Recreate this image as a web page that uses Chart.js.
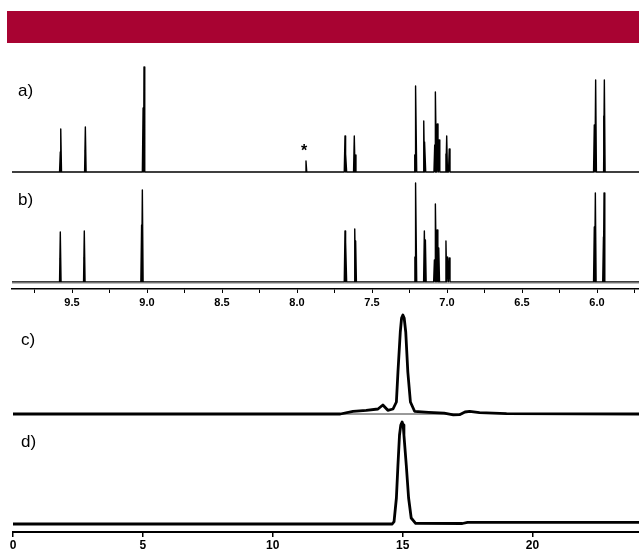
<!DOCTYPE html>
<html>
<head>
<meta charset="utf-8">
<script src="https://cdn.jsdelivr.net/npm/chart.js@4.4.1/dist/chart.umd.min.js"></script>
<style>
  html,body{margin:0;padding:0;background:#fff;}
  #wrap{position:relative;width:639px;height:552px;overflow:hidden;background:#fff;}
  canvas{position:absolute;left:0;}
  .lbl{position:absolute;font-family:"Liberation Sans",Arial,sans-serif;font-size:17px;line-height:17px;color:#000;}
</style>
</head>
<body>
<div id="wrap">
  <div style="position:absolute;left:7px;top:11px;width:632px;height:32px;background:#A80332"></div>
  <canvas id="cA" width="639" height="130" style="top:50px"></canvas>
  <canvas id="cB" width="639" height="140" style="top:175px"></canvas>
  <canvas id="cC" width="639" height="120" style="top:305px"></canvas>
  <canvas id="cD" width="639" height="137" style="top:415px"></canvas>
  <span class="lbl" style="left:18px;top:82px">a)</span>
  <span class="lbl" style="left:18px;top:191px">b)</span>
  <span class="lbl" style="left:21px;top:331px">c)</span>
  <span class="lbl" style="left:21px;top:433px">d)</span>
  <span class="lbl" style="left:301px;top:142px;font-size:16px;font-weight:bold">*</span>
</div>
<script>
// ---------- DATA ----------
const nmrRange = [5.72, 9.9];                 // ppm shown (reversed axis)
const nmrTicks = [9.75, 9.5, 9.25, 9.0, 8.75, 8.5, 8.25, 8.0, 7.75, 7.5, 7.25, 7.0, 6.75, 6.5, 6.25, 6.0, 5.75];

// spectrum a) lines: chemical shift (ppm) and intensity
const peaksA_ppm = [9.578, 9.575, 9.414, 9.411, 9.026, 9.020, 7.940, 7.680, 7.674, 7.618, 7.612, 7.215, 7.207, 7.155, 7.147, 7.082, 7.075, 7.065, 7.053, 7.007, 7.002, 6.985, 6.018, 6.009, 5.955, 5.951];
const peaksA_int = [20, 43, 22, 45, 64, 105, 11, 36, 18, 36, 17, 17, 86, 51, 30, 27, 80, 48, 32, 18, 36, 23, 47, 92, 56, 92];

// spectrum b) lines
const peaksB_ppm = [9.581, 9.578, 9.421, 9.418, 9.036, 9.031, 7.680, 7.674, 7.615, 7.609, 7.214, 7.207, 7.151, 7.144, 7.084, 7.075, 7.066, 7.055, 7.007, 6.996, 6.985, 6.018, 6.011, 5.957, 5.953];
const peaksB_int = [24, 50, 25, 51, 57, 92, 51, 40, 53, 41, 25, 99, 51, 42, 22, 78, 52, 34, 41, 25, 24, 55, 89, 45, 89];

const hplcRange = [0, 24.1];                  // retention time (min)
const hplcTicks = [0, 5, 10, 15, 20];

// chromatogram c)
const chromC_time   = [0, 12.6, 13.09, 13.6, 14.05, 14.24, 14.43, 14.63, 14.76, 14.82, 14.91, 14.96, 15.01, 15.06, 15.12, 15.2, 15.3, 15.46, 16.0, 16.6, 16.95, 17.19, 17.4, 17.58, 17.96, 19.0, 24.1];
const chromC_signal = [0, 0, 2.7, 3.7, 5, 9, 3.7, 5, 12, 42, 82, 96, 99, 96, 82, 42, 12, 2.7, 1.7, 0.8, -0.8, -0.7, 2.0, 2.7, 1.3, 0.3, 0];
const chromC_base_time = [12.6, 17.3];
const chromC_base_signal = [0, 0];

// chromatogram d)
const chromD_time   = [0, 14.6, 14.67, 14.76, 14.82, 14.88, 14.93, 14.98, 15.02, 15.05, 15.14, 15.23, 15.33, 15.5, 17.3, 17.5, 24.1];
const chromD_signal = [0, 0, 2.3, 26, 59, 89, 99, 102, 99, 89, 59, 26, 6, 0.7, 0.5, 1.6, 1.6];

// ---------- BUILD ----------
function spikes(ppm, inten, lo, hi, w) {
  const idx = ppm.map((p, i) => i).sort((a, b) => ppm[b] - ppm[a]);
  const pts = [{x: hi, y: 0}];
  idx.forEach(i => {
    pts.push({x: ppm[i] + w, y: 0});
    pts.push({x: ppm[i], y: inten[i]});
    pts.push({x: ppm[i] - w, y: 0});
  });
  pts.push({x: lo, y: 0});
  return pts;
}
function pairs(xs, ys) { return xs.map((x, i) => ({x: x, y: ys[i]})); }

const FONT = '"Liberation Sans", Arial, sans-serif';

function lineDs(data, color, width) {
  return {data: data, borderColor: color, borderWidth: width, pointRadius: 0,
          tension: 0, fill: false, borderJoinStyle: 'round', borderCapStyle: 'butt'};
}

function makeChart(id, datasets, cfg) {
  const xScale = {
    type: 'linear', min: cfg.xmin, max: cfg.xmax, reverse: !!cfg.reverse,
    display: !!cfg.showX,
    afterBuildTicks: s => { s.ticks = cfg.ticks.map(v => ({value: v})); },
    border: {display: true, color: '#000', width: cfg.axisW || 1.5},
    grid: {display: true, drawOnChartArea: false, drawTicks: true, tickLength: cfg.tickLen || 4,
           color: '#000', lineWidth: cfg.tickW || 1},
    ticks: {color: '#000', autoSkip: false, maxRotation: 0, padding: cfg.tickPad || 2,
            font: {family: FONT, size: cfg.fontSize || 10, weight: 'bold'},
            callback: cfg.labelFn},
  };
  if (cfg.showX) xScale.afterFit = s => { s.height = cfg.axisH; };
  return new Chart(document.getElementById(id), {
    type: 'line',
    data: {datasets: datasets},
    options: {
      responsive: false, animation: false, devicePixelRatio: 1,
      parsing: false, normalized: true,
      layout: {padding: cfg.pad},
      plugins: {legend: {display: false}, tooltip: {enabled: false}, title: {display: false}},
      scales: {
        x: xScale,
        y: {type: 'linear', display: false, min: cfg.ymin, max: cfg.ymax}
      }
    }
  });
}

const nmrLabel = v => (Math.abs(v * 2 - Math.round(v * 2)) < 1e-6) ? v.toFixed(1) : '';
const hplcLabel = v => String(v);

makeChart('cA', [lineDs(spikes(peaksA_ppm, peaksA_int, nmrRange[0], nmrRange[1], 0.005), '#000', 1.4)], {
  xmin: nmrRange[0], xmax: nmrRange[1], reverse: true, showX: false, ticks: nmrTicks, labelFn: nmrLabel,
  pad: {left: 12, right: 0, top: 7, bottom: 3}, ymin: -5, ymax: 115
});

makeChart('cB', [
  lineDs([{x: nmrRange[1], y: -1.2}, {x: nmrRange[0], y: -1.2}], '#a8a8a8', 1.2),
  lineDs(spikes(peaksB_ppm, peaksB_int, nmrRange[0], nmrRange[1], 0.005), '#000', 1.4)
], {
  xmin: nmrRange[0], xmax: nmrRange[1], reverse: true, showX: true, ticks: nmrTicks, labelFn: nmrLabel,
  axisH: 22, tickLen: 4, tickPad: 3, fontSize: 11, axisW: 1.5,
  pad: {left: 12, right: 0, top: 2, bottom: 4}, ymin: -7, ymax: 105
});

makeChart('cC', [
  lineDs(pairs(chromC_base_time, chromC_base_signal), '#000', 0.8),
  lineDs(pairs(chromC_time, chromC_signal), '#000', 2.8)
], {
  xmin: hplcRange[0], xmax: hplcRange[1], showX: false, ticks: hplcTicks, labelFn: hplcLabel,
  pad: {left: 13, right: 0, top: 5, bottom: 5}, ymin: -6, ymax: 104
});

makeChart('cD', [lineDs(pairs(chromD_time, chromD_signal), '#000', 2.8)], {
  xmin: hplcRange[0], xmax: hplcRange[1], showX: true, ticks: hplcTicks, labelFn: hplcLabel,
  axisH: 20, tickLen: 5, tickPad: 1, fontSize: 12, axisW: 2, tickW: 1.5,
  pad: {left: 13, right: 0, top: 3, bottom: 0}, ymin: -8, ymax: 106
});
</script>
</body>
</html>
